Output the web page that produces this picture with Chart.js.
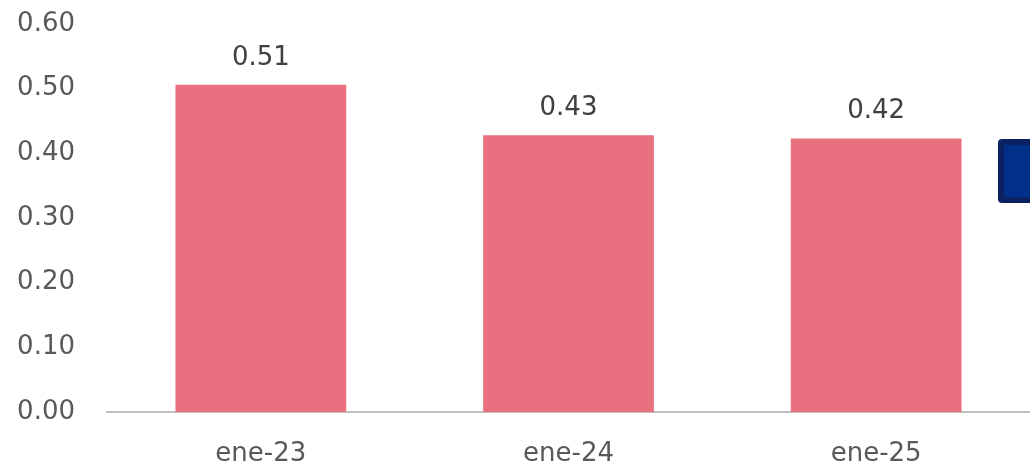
<!DOCTYPE html>
<html>
<head>
<meta charset="utf-8">
<script src="https://cdn.jsdelivr.net/npm/chart.js@4/dist/chart.umd.min.js"></script>
<style>
  html, body { margin: 0; padding: 0; background: #fff; }
  #wrap { position: relative; width: 1030px; height: 465px; overflow: hidden; }
  #caja {
    position: absolute; left: 998px; top: 139px; width: 40px; height: 52px;
    background: #00308a; border: 6px solid #0c2160; border-radius: 4px;
  }
</style>
</head>
<body>
<div id="wrap">
  <canvas id="grafica" width="1030" height="465"></canvas>
  <div id="caja"></div>
</div>
<script>
// =================== Datos ===================
const categorias = ["ene-23", "ene-24", "ene-25"];
const valores = [0.506, 0.428, 0.423];
const ticksY = [0, 0.1, 0.2, 0.3, 0.4, 0.5, 0.6];

const FUENTE = "'DejaVu Sans', sans-serif";

// Plugin simple para escribir el valor encima de cada barra
const etiquetasValor = {
  id: "etiquetasValor",
  afterDatasetsDraw(chart) {
    const ctx = chart.ctx;
    const meta = chart.getDatasetMeta(0);
    ctx.save();
    ctx.font = "26px " + FUENTE;
    ctx.fillStyle = "#404040";
    ctx.textAlign = "center";
    ctx.textBaseline = "middle";
    meta.data.forEach((bar, i) => {
      ctx.fillText(valores[i].toFixed(2), bar.x, bar.y - 27);
    });
    ctx.restore();
  }
};

new Chart(document.getElementById("grafica").getContext("2d"), {
  type: "bar",
  data: {
    labels: categorias,
    datasets: [{
      data: valores,
      backgroundColor: "#e9707e",
      barPercentage: 1,
      categoryPercentage: 0.555
    }]
  },
  options: {
    responsive: false,
    animation: false,
    layout: { padding: { top: 24, right: 0, bottom: 0, left: 0 } },
    plugins: { legend: { display: false }, tooltip: { enabled: false } },
    scales: {
      x: {
        grid: { display: false, drawTicks: false },
        border: { color: "#bfbfbf", width: 2 },
        afterFit: (s) => { s.height = 53; s.paddingLeft = 0; s.paddingRight = 0; },
        ticks: { color: "#595959", padding: 27, font: { family: FUENTE, size: 26 } }
      },
      y: {
        min: 0,
        max: 0.6,
        grid: { display: false, drawTicks: false },
        border: { display: false },
        afterFit: (s) => { s.width = 107; s.paddingTop = 0; s.paddingBottom = 0; },
        afterBuildTicks: (s) => { s.ticks = ticksY.map(v => ({ value: v })); },
        ticks: {
          color: "#595959",
          padding: 32,
          font: { family: FUENTE, size: 26 },
          callback: (v) => Number(v).toFixed(2)
        }
      }
    }
  },
  plugins: [etiquetasValor]
});
</script>
</body>
</html>
